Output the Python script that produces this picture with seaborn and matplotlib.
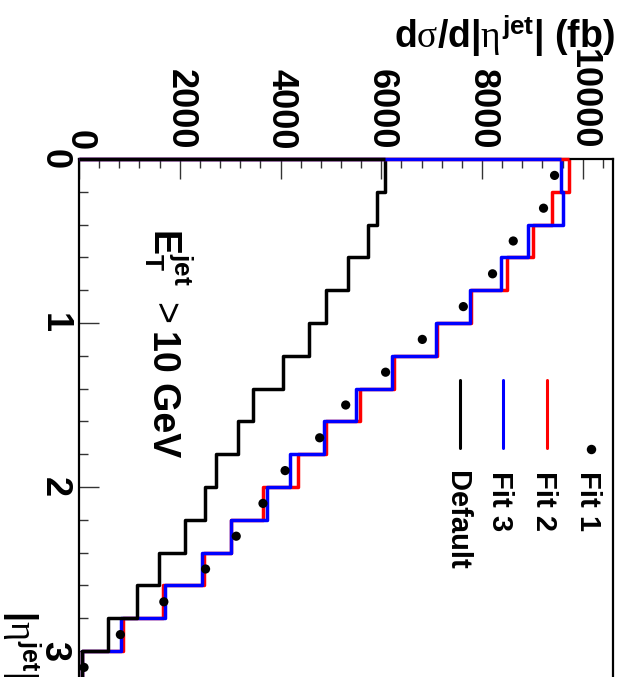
import numpy as np
import pandas as pd
import matplotlib
matplotlib.use("Agg")
import matplotlib.pyplot as plt
import seaborn as sns
from matplotlib.lines import Line2D
from matplotlib.ticker import MultipleLocator, StrMethodFormatter

# ---------------- data ----------------
eta_edges = [0.0, 0.2, 0.4, 0.6, 0.8, 1.0, 1.2, 1.4, 1.6, 1.8, 2.0,
             2.2, 2.4, 2.6, 2.8, 3.0, 3.2]
eta_centers = [0.1, 0.3, 0.5, 0.7, 0.9, 1.1, 1.3, 1.5, 1.7, 1.9, 2.1,
               2.3, 2.5, 2.7, 2.9, 3.1]
fit1_values = [9440, 9221, 8620, 8209, 7629, 6815, 6086, 5294, 4777, 4091,
               3652, 3121, 2512, 1684, 821, 100]
fit2_values = [9720, 9384, 9016, 8500, 7780, 7098, 6249, 5577, 4904, 4338,
               3652, 3015, 2477, 1663, 870, 60]
fit3_values = [9560, 9611, 8903, 8386, 7757, 7077, 6213, 5492, 4869, 4183,
               3723, 3020, 2449, 1706, 835, 60]
default_values = [6080, 5916, 5732, 5336, 4904, 4572, 4055, 3454, 3149, 2725,
                  2498, 2109, 1592, 1154, 573, 55]
legend_labels = ["Fit 1", "Fit 2", "Fit 3", "Default"]
value_ticks = [0, 2000, 4000, 6000, 8000, 10000]
eta_ticks = [0, 1, 2, 3]

df = pd.DataFrame({"eta": eta_centers, "fit1": fit1_values, "fit2": fit2_values,
                   "fit3": fit3_values, "default": default_values})

# ---------------- style ----------------
sns.set_style("ticks")
plt.rcParams["font.family"] = ["Liberation Sans", "DejaVu Sans"]
plt.rcParams["mathtext.fontset"] = "custom"
plt.rcParams["mathtext.rm"] = "Liberation Sans:bold"
plt.rcParams["mathtext.bf"] = "Liberation Sans:bold"
plt.rcParams["mathtext.it"] = "Liberation Serif"
plt.rcParams["text.color"] = "black"
plt.rcParams["axes.labelcolor"] = "black"
plt.rcParams["xtick.color"] = "black"
plt.rcParams["ytick.color"] = "black"
plt.rcParams["xtick.labelcolor"] = "black"
plt.rcParams["ytick.labelcolor"] = "black"

W, H = 620, 677
fig = plt.figure(figsize=(W / 100, H / 100), dpi=100)

def fx(px):
    return px / W

def fy(py):
    return 1 - py / H

ax = fig.add_axes([fx(79), fy(683.8), (613 - 79) / W, 524.8 / H])

LW = 2.5
series = [("fit2", "#ff0000", fit2_values), ("fit3", "#0000ff", fit3_values),
          ("default", "black", default_values)]
for col, color, vals in series:
    sns.histplot(data=df, y="eta", weights=col, bins=eta_edges, element="step",
                 fill=False, color=color, linewidth=LW, ax=ax)
    # closing segment of the histogram outline along eta = 0
    ax.hlines(eta_edges[0], 0, vals[0], color=color, linewidth=LW,
              clip_on=False, zorder=3)

sns.scatterplot(data=df, x="fit1", y="eta", color="black", s=44,
                edgecolor="none", ax=ax, zorder=5)

ax.set_xlim(0, 10600)
ax.set_ylim(3.2, 0)
ax.set_xlabel("")
ax.set_ylabel("")

ax.xaxis.set_major_locator(MultipleLocator(2000))
ax.xaxis.set_minor_locator(MultipleLocator(400))
ax.xaxis.set_major_formatter(StrMethodFormatter("{x:.0f}"))
ax.yaxis.set_major_locator(MultipleLocator(1))
ax.yaxis.set_minor_locator(MultipleLocator(0.2))
ax.yaxis.set_major_formatter(StrMethodFormatter("{x:.0f}"))
ax.set_xticks(value_ticks)
ax.set_yticks(eta_ticks)

ax.xaxis.tick_top()
ax.tick_params(axis="x", which="both", direction="in", top=True, bottom=False,
               labeltop=True, labelbottom=False)
ax.tick_params(axis="y", which="both", direction="in", left=True, right=False)
ax.tick_params(which="major", length=14.4, width=1.0, color="#333333")
ax.tick_params(which="minor", length=6.8, width=1.0, color="#333333")
ax.tick_params(axis="x", which="major", pad=6.5, labelsize=26, labelrotation=-90)
ax.tick_params(axis="y", which="major", pad=5.5, labelsize=26, labelrotation=-90)
for lab in ax.get_xticklabels() + ax.get_yticklabels():
    lab.set_fontweight("bold")
    lab.set_color("black")
for lab in ax.get_yticklabels():
    lab.set_va("center")

for s in ax.spines.values():
    s.set_linewidth(1.6)
    s.set_color("black")

# ---------------- texts ----------------
fig.text(fx(615), fy(48), "d$\\sigma$/d|$\\eta^{\\mathrm{jet}}$| (fb)",
         ha="right", va="baseline", fontsize=27, fontweight="bold")

fig.text(fx(10), fy(610), "|$\\eta^{\\mathrm{jet}}$|", rotation=-90,
         rotation_mode="anchor", ha="left", va="baseline", fontsize=26,
         fontweight="bold")

fig.text(fx(153), fy(228), "E$_{\\mathrm{T}}^{\\mathrm{jet}}$", rotation=-90,
         rotation_mode="anchor", ha="left", va="baseline", fontsize=27,
         fontweight="bold")
fig.text(fx(153), fy(302), ">", rotation=-90, rotation_mode="anchor",
         ha="left", va="baseline", fontsize=27, fontweight="normal")
fig.text(fx(153), fy(330), "10 GeV", rotation=-90, rotation_mode="anchor",
         ha="left", va="baseline", fontsize=27, fontweight="bold")

# ---------------- legend (rotated, drawn manually) ----------------
leg_colors = ["black", "#ff0000", "#0000ff", "black"]
leg_x = [591, 547, 503, 459.5]
for i, (lab, c, x) in enumerate(zip(legend_labels, leg_colors, leg_x)):
    if i == 0:
        fig.add_artist(Line2D([fx(x)], [fy(449)], marker="o", markersize=6.8,
                              color=c, markeredgewidth=0, linestyle="none"))
    else:
        fig.add_artist(Line2D([fx(x), fx(x)], [fy(380), fy(448)], color=c,
                              linewidth=2.2))
    fig.text(fx(x - 10.5), fy(471), lab, rotation=-90, rotation_mode="anchor",
             ha="left", va="baseline", fontsize=21, fontweight="bold")

fig.savefig("out.png", dpi=100)
